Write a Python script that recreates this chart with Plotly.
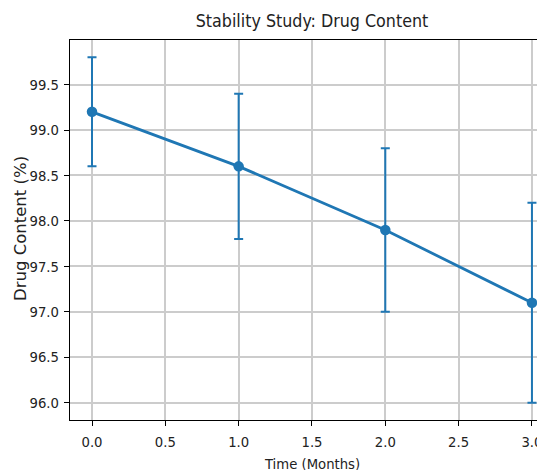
import plotly.graph_objects as go

time_months = [0, 1, 2, 3]
drug_content = [99.2, 98.6, 97.9, 97.1]
std_dev = [0.6, 0.8, 0.9, 1.1]
x_ticks = [0.0, 0.5, 1.0, 1.5, 2.0, 2.5, 3.0]
y_ticks = [96.0, 96.5, 97.0, 97.5, 98.0, 98.5, 99.0, 99.5]

FONT = "DejaVu Sans Condensed, DejaVu Sans, sans-serif"
FONT_ROT = "DejaVu Sans, sans-serif"
BLUE = "#1f77b4"
# the page body adds an 8px offset, so the figure is sized to fill the 545x470 window
OFF = 8
W, H = 545 - OFF, 470 - OFF
L, R, T, B = 70 - OFF, 0, 40 - OFF, 50

fig = go.Figure()
fig.add_trace(go.Scatter(
    x=time_months, y=drug_content,
    mode="lines+markers",
    line=dict(color=BLUE, width=2.8),
    marker=dict(color=BLUE, size=10.5),
    error_y=dict(type="data", array=std_dev, visible=True,
                 color=BLUE, thickness=2, width=4.5),
    showlegend=False,
))

fig.update_layout(
    width=W, height=H,
    margin=dict(l=L, r=R, t=T, b=B, autoexpand=False),
    paper_bgcolor="white", plot_bgcolor="white",
    font=dict(family=FONT, size=14.7, color="#222"),
    title=dict(text="Stability Study: Drug Content", x=(312 - OFF) / W, xref="container",
               xanchor="center", y=1 - (21 - OFF) / H, yanchor="middle",
               font=dict(size=17.7, family=FONT, color="#222")),
)
fig.update_xaxes(
    range=[-0.15, 3.089],
    tickvals=x_ticks, ticktext=[f"{v:.1f}" for v in x_ticks],
    showgrid=True, gridcolor="#cccccc", gridwidth=1.5,
    showline=True, linecolor="black", linewidth=1.3, mirror=True,
    ticks="outside", ticklen=5, tickcolor="black", ticklabelstandoff=3,
    zeroline=False, automargin=False,
)
fig.update_yaxes(
    range=[95.81, 99.99],
    tickvals=y_ticks, ticktext=[f"{v:.1f}" for v in y_ticks],
    showgrid=True, gridcolor="#cccccc", gridwidth=1.5,
    showline=True, linecolor="black", linewidth=1.3, mirror=False,
    ticks="outside", ticklen=5, tickcolor="black", ticklabelstandoff=2,
    zeroline=False, automargin=False,
)

pw = W - L - R
ph = H - T - B
fig.add_annotation(text="Time (Months)", xref="paper", yref="paper",
                   x=(312 - 70) / pw, y=-(463 - 420) / ph,
                   xanchor="center", yanchor="middle", showarrow=False,
                   font=dict(size=14.7, family=FONT, color="#222"))
fig.add_annotation(text="Drug Content (%)", xref="paper", yref="paper",
                   x=(20 - 70) / pw, y=(420 - 229) / ph, textangle=-90,
                   xanchor="center", yanchor="middle", showarrow=False,
                   font=dict(size=16.5, family=FONT_ROT, color="#222"))

fig.write_html("out.html")
